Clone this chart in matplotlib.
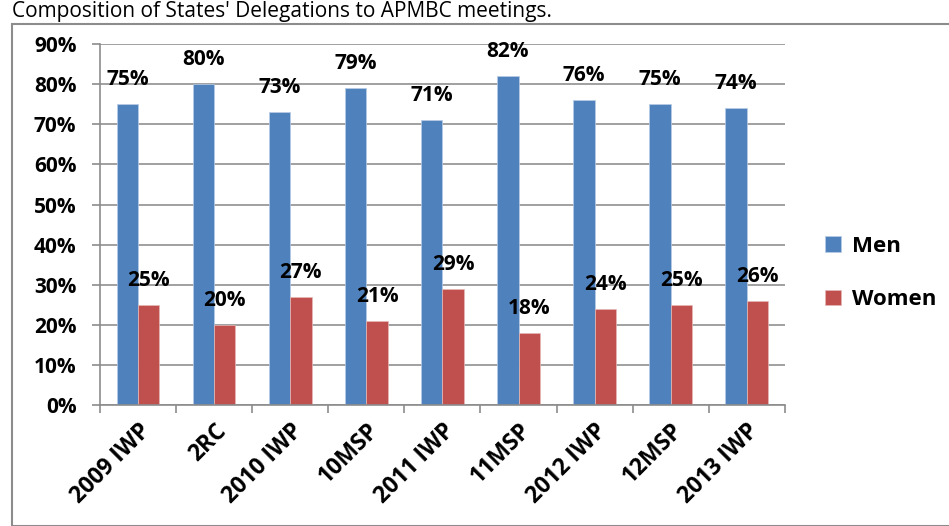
import matplotlib.pyplot as plt
import numpy as np
from matplotlib.patches import Rectangle

plt.rcParams['font.family'] = ['Open Sans', 'DejaVu Sans']

meetings = ["2009 IWP", "2RC", "2010 IWP", "10MSP", "2011 IWP",
            "11MSP", "2012 IWP", "12MSP", "2013 IWP"]
men = [75, 80, 73, 79, 71, 82, 76, 75, 74]
women = [25, 20, 27, 21, 29, 18, 24, 25, 26]

fig = plt.figure(figsize=(9.49, 5.26), dpi=100)
ax = fig.add_axes([0.1054, 0.230, 0.7216, 0.686])

# outer chart frame
fig.patches.append(Rectangle((12 / 949, 0), 1, 1 - 24 / 526, transform=fig.transFigure,
                             fill=False, edgecolor="#8c8c8c", linewidth=1.5))
fig.text(0.013, 0.999, "Composition of States' Delegations to APMBC meetings.",
         fontsize=15, va="top", ha="left")

x = np.arange(len(meetings))
w = 0.28
ax.bar(x - w / 2, men, w, color="#4F81BD", label="Men",
       edgecolor="#b9cde5", linewidth=0.5, zorder=2)
ax.bar(x + w / 2, women, w, color="#C0504D", label="Women",
       edgecolor="#e6b9b8", linewidth=0.5, zorder=2)

for xi, v in zip(x, men):
    ax.text(xi - w / 2, v + 4.8, f"{v}%", ha="center", va="baseline",
            fontsize=15, fontweight="bold", zorder=3)
for xi, v in zip(x, women):
    ax.text(xi + w / 2, v + 4.8, f"{v}%", ha="center", va="baseline",
            fontsize=15, fontweight="bold", zorder=3)

ax.set_xlim(-0.5, len(meetings) - 0.5)
ax.set_ylim(0, 90)
ax.set_yticks(range(0, 91, 10))
ax.set_yticklabels([f"{t}%" for t in range(0, 91, 10)], fontsize=15, fontweight="bold")
ax.yaxis.grid(True, color="#999999", linewidth=1.3)
ax.set_axisbelow(True)
ax.set_xticks(x)
ax.set_xticklabels(meetings, rotation=45, ha="right", rotation_mode="anchor",
                   fontsize=16.5, fontweight="bold")
ax.tick_params(axis="x", length=0, pad=10)
ax.set_xticks(np.arange(-0.5, len(meetings)), minor=True)
ax.tick_params(axis="x", which="minor", length=6, width=1.2, color="#8c8c8c")
ax.tick_params(axis="y", length=6, width=1.2, color="#8c8c8c", pad=11)

for s in ["top", "right"]:
    ax.spines[s].set_visible(False)
for s in ["left", "bottom"]:
    ax.spines[s].set_color("#8c8c8c")
    ax.spines[s].set_linewidth(1.2)

ax.legend(loc="center left", bbox_to_anchor=(1.03, 0.366), frameon=False,
          prop={"size": 16, "weight": "bold"}, handlelength=0.7,
          handleheight=0.7, labelspacing=1.45, handletextpad=0.5)

fig.savefig("out.png", dpi=100)
